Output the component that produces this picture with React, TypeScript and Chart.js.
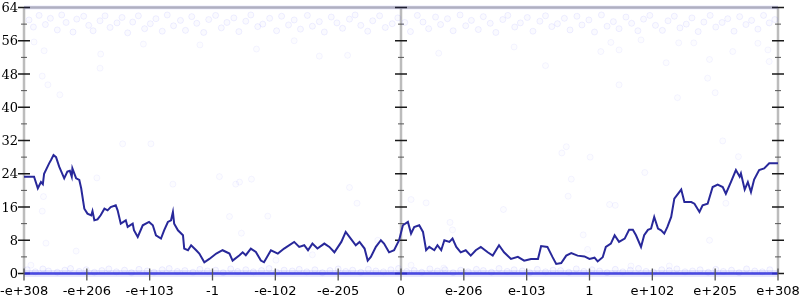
import React, { useEffect, useRef } from 'react';
import { Chart, registerables } from 'chart.js';
Chart.register(...registerables);

// x positions are category slots -6..6 (one per tick label)
const xTickLabels = ['-e+308', '-e+206', '-e+103', '-1', '-e-102', '-e-205', '0', 'e-206', 'e-103', '1', 'e+102', 'e+205', 'e+308'];
const xTickPos = [-6, -5, -4, -3, -2, -1, 0, 1, 2, 3, 4, 5, 6];
const yTicks = [0, 8, 16, 24, 32, 40, 48, 56, 64];
const yMinorTicks = [4, 12, 20, 28, 36, 44, 52, 60];

// main line (random-walk like trace)
const walkX = [-6, -5.84, -5.78, -5.73, -5.7, -5.68, -5.6, -5.57, -5.53, -5.49, -5.44, -5.36, -5.31, -5.27, -5.24, -5.23, -5.17, -5.12, -5.09, -5.04, -4.99, -4.93, -4.91, -4.88, -4.83, -4.78, -4.72, -4.67, -4.62, -4.54, -4.51, -4.46, -4.38, -4.35, -4.27, -4.25, -4.19, -4.11, -4.01, -3.95, -3.9, -3.82, -3.77, -3.71, -3.66, -3.63, -3.61, -3.55, -3.47, -3.45, -3.39, -3.34, -3.26, -3.21, -3.13, -3.05, -2.94, -2.84, -2.73, -2.68, -2.57, -2.52, -2.47, -2.39, -2.31, -2.23, -2.18, -2.1, -2.07, -1.96, -1.86, -1.7, -1.62, -1.54, -1.48, -1.41, -1.33, -1.22, -1.14, -1.06, -0.95, -0.88, -0.8, -0.72, -0.66, -0.58, -0.53, -0.48, -0.4, -0.32, -0.27, -0.19, -0.11, -0.03, 0.03, 0.11, 0.16, 0.21, 0.29, 0.35, 0.4, 0.45, 0.53, 0.58, 0.64, 0.69, 0.77, 0.82, 0.88, 0.95, 1.03, 1.11, 1.19, 1.27, 1.38, 1.46, 1.56, 1.64, 1.75, 1.86, 1.96, 2.07, 2.18, 2.23, 2.33, 2.41, 2.47, 2.55, 2.63, 2.71, 2.81, 2.92, 3.0, 3.08, 3.13, 3.21, 3.26, 3.34, 3.4, 3.47, 3.56, 3.63, 3.69, 3.74, 3.82, 3.87, 3.93, 3.98, 4.03, 4.09, 4.14, 4.19, 4.24, 4.3, 4.35, 4.46, 4.51, 4.62, 4.67, 4.75, 4.8, 4.88, 4.96, 5.04, 5.12, 5.17, 5.25, 5.33, 5.39, 5.41, 5.47, 5.52, 5.57, 5.62, 5.7, 5.78, 5.86, 5.94, 6];
const walkY = [23.3, 23.3, 20.5, 22, 21.5, 24, 26.5, 27.3, 28.5, 28, 25.7, 22.9, 24.5, 24.7, 23.3, 25.3, 22.9, 22.5, 20.5, 15.6, 14.4, 14, 15, 12.8, 13, 14, 15.6, 15.2, 16, 16.4, 15.2, 12, 12.8, 11.2, 12, 10.4, 8.8, 11.6, 12.4, 11.6, 9.2, 8.4, 10.4, 12.4, 12.8, 14.8, 12, 10.4, 9.2, 6, 5.6, 6.8, 5.6, 4.8, 2.7, 3.5, 4.8, 5.6, 4.8, 3.1, 4.4, 5.1, 4.4, 6, 5.2, 3.1, 2.7, 4.8, 5.6, 4.8, 6, 7.6, 6.4, 6.8, 5.6, 7.2, 6, 7.2, 6.4, 5.1, 7.6, 10, 8.4, 6.8, 7.6, 6, 3.1, 4, 6.4, 8, 7.2, 5.1, 5.6, 8, 11.6, 12.4, 9.6, 11.2, 11.6, 10, 5.6, 6.4, 5.6, 6.8, 5.6, 8, 7.6, 8.4, 6.4, 5.1, 5.6, 4.3, 5.6, 6.4, 5.1, 4.3, 6.8, 5.1, 3.5, 4, 3.1, 3.5, 3.5, 6.6, 6.4, 4, 2.3, 2.5, 4.3, 4.9, 4.3, 4.1, 3.5, 3.8, 2.9, 3.9, 6.4, 7.2, 9.2, 7.6, 8.4, 10.5, 10.5, 9.2, 6.4, 9.2, 10.5, 10.8, 13.6, 10.8, 10.4, 9.6, 11.2, 13.6, 18, 20.2, 17.2, 17.2, 16.8, 14.8, 16.4, 16.8, 20.8, 21.4, 20.8, 19.2, 22, 24.9, 23.3, 24.1, 20.2, 22, 19.6, 22.6, 24.9, 25.3, 26.5, 26.5, 26.5];

// faint sample points near the top
const topX = [-5.92, -5.85, -5.76, -5.66, -5.58, -5.47, -5.4, -5.33, -5.22, -5.16, -5.05, -4.97, -4.9, -4.79, -4.71, -4.63, -4.52, -4.44, -4.35, -4.27, -4.18, -4.08, -3.99, -3.9, -3.8, -3.72, -3.62, -3.51, -3.43, -3.33, -3.25, -3.14, -3.06, -2.95, -2.86, -2.77, -2.66, -2.58, -2.47, -2.39, -2.28, -2.2, -2.09, -1.98, -1.9, -1.79, -1.7, -1.6, -1.49, -1.41, -1.3, -1.22, -1.11, -1.02, -0.93, -0.82, -0.73, -0.64, -0.53, -0.45, -0.34, -0.25, -0.14, -0.05, 0.06, 0.15, 0.26, 0.35, 0.44, 0.55, 0.63, 0.74, 0.83, 0.94, 1.03, 1.12, 1.23, 1.31, 1.42, 1.51, 1.62, 1.7, 1.81, 1.9, 2.01, 2.1, 2.21, 2.3, 2.4, 2.49, 2.6, 2.69, 2.8, 2.88, 2.99, 3.08, 3.19, 3.28, 3.38, 3.47, 3.58, 3.67, 3.77, 3.86, 3.96, 4.05, 4.16, 4.25, 4.35, 4.44, 4.54, 4.63, 4.73, 4.82, 4.92, 5.01, 5.11, 5.2, 5.3, 5.39, 5.49, 5.58, 5.68, 5.77, 5.86, 5.95];
const topY = [61.0, 59.3, 62.1, 59.9, 61.4, 58.6, 62.2, 60.4, 58.1, 61.2, 61.9, 59.7, 58.4, 60.8, 62.0, 59.2, 60.3, 61.6, 57.9, 60.5, 62.0, 58.9, 60.1, 61.3, 58.3, 62.2, 59.6, 60.9, 58.5, 61.8, 60.2, 58.0, 61.1, 62.1, 59.1, 60.4, 61.5, 58.2, 60.7, 62.2, 59.4, 60.0, 61.4, 58.4, 61.9, 59.8, 61.0, 58.8, 62.1, 59.5, 60.6, 58.1, 61.7, 60.3, 59.0, 61.2, 62.2, 59.7, 58.3, 60.8, 62.0, 59.2, 60.1, 61.5, 60.4, 58.2, 62.1, 60.5, 58.9, 61.7, 59.9, 61.3, 58.4, 62.2, 59.6, 60.9, 58.7, 61.8, 60.2, 58.0, 61.1, 62.1, 59.3, 60.3, 61.6, 58.3, 60.7, 62.0, 59.4, 60.1, 61.4, 58.6, 61.9, 59.8, 61.0, 58.1, 62.2, 59.5, 60.6, 58.9, 61.7, 60.2, 58.4, 61.2, 62.1, 59.7, 58.5, 60.8, 61.9, 59.1, 60.0, 61.5, 58.2, 60.5, 62.1, 59.3, 60.4, 61.3, 58.3, 61.8, 59.9, 60.9, 58.8, 62.1, 60.3, 61.1];

// scattered faint points in the body of the plot
const midX = [-5.84, -5.68, -4.78, -4.79, -5.71, -5.62, -5.43, -4.43, -3.98, -5.69, -5.71, -5.65, -5.17, -4.84, -3.63, -2.89, -2.63, -2.57, -2.38, -2.73, -2.54, -2.12, -5.89, -0.82, -0.7, 0.16, 0.4, 0.78, 0.82, 1.63, -0.37, -1.41, -1.99, 0.16, 0.68, 2.63, 2.56, 3.01, 2.71, 2.66, 3.32, 3.41, 3.88, 5.12, 5.37, 5.17, 4.91, 2.9, 2.97, 3.66, 4.27, 4.22, 4.91, 4.88, 5.0, 4.4, 3.47, 3.47, 3.18, 5.84, 5.86, 5.28, 4.42, 4.66, 5.68, 3.34, 3.82, -1.3, -0.85, 0.6, -2.3, -3.2, 1.8, 2.3, -4.1, -1.7];
const midY = [55.7, 53.6, 52.8, 49.4, 47.5, 45.4, 43, 31.2, 31.2, 18.5, 15, 7.3, 5.4, 23, 21.5, 23.3, 21.5, 22, 22.7, 13.7, 9.7, 13.8, 2, 20.7, 16.9, 17.8, 17, 12.3, 10.5, 15.4, 8, 4.5, 3.2, 2, 1.3, 30.5, 29, 28, 22.7, 18.6, 16.6, 16.4, 24.3, 31.9, 28.1, 16.9, 8, 9.3, 5.8, 1.8, 1.8, 50.7, 51.5, 47, 43.5, 42.3, 45.4, 53.8, 53.4, 53.8, 51, 53.4, 55.5, 55.5, 55.4, 55.6, 56.2, 52.3, 52.5, 53, 54, 55, 54.5, 50, 55.2, 56];

// faint sample points hugging the floor
const lowX = [-5.95, -5.82, -5.7, -5.61, -5.47, -5.35, -5.26, -5.12, -5.01, -4.88, -4.76, -4.65, -4.53, -4.4, -4.29, -4.17, -4.04, -3.93, -3.8, -3.69, -3.56, -3.44, -3.31, -3.2, -3.08, -2.95, -2.83, -2.71, -2.6, -2.47, -2.35, -2.22, -2.1, -1.98, -1.86, -1.73, -1.62, -1.5, -1.37, -1.25, -1.13, -1.0, -0.88, -0.77, -0.64, -0.52, -0.4, -0.28, -0.16, -0.04, 0.09, 0.21, 0.33, 0.46, 0.58, 0.7, 0.83, 0.95, 1.07, 1.2, 1.31, 1.44, 1.56, 1.69, 1.8, 1.93, 2.05, 2.17, 2.3, 2.42, 2.54, 2.67, 2.79, 2.91, 3.04, 3.16, 3.28, 3.41, 3.53, 3.65, 3.78, 3.9, 4.02, 4.15, 4.27, 4.39, 4.52, 4.64, 4.76, 4.89, 5.01, 5.13, 5.26, 5.38, 5.5, 5.63, 5.75, 5.87];
const lowY = [0.9, 0.4, 1.1, 0.6, 0.3, 0.8, 1.2, 0.5, 0.9, 0.3, 0.7, 1.1, 0.4, 0.8, 0.2, 1.0, 0.6, 0.3, 0.9, 1.2, 0.5, 0.7, 0.3, 1.0, 0.6, 0.8, 0.2, 1.1, 0.5, 0.9, 0.4, 0.7, 1.2, 0.3, 0.8, 0.6, 1.0, 0.4, 0.9, 0.2, 0.7, 1.1, 0.5, 0.8, 0.3, 1.0, 0.6, 0.4, 0.9, 1.2, 0.5, 0.7, 0.3, 1.1, 0.6, 0.9, 0.2, 0.8, 0.4, 1.0, 0.7, 0.3, 1.2, 0.5, 0.9, 0.6, 0.2, 1.0, 0.4, 0.8, 0.7, 0.3, 1.1, 0.5, 0.9, 0.6, 0.2, 1.0, 0.4, 0.8, 1.2, 0.5, 0.3, 0.9, 0.7, 1.1, 0.4, 0.6, 0.9, 0.3, 1.0, 0.5, 0.8, 0.2, 1.1, 0.6, 0.4, 0.9];

const bandX = [-6, 6];
const floorY = [0, 0];
const ceilY = [64, 64];

const zip = (xs: number[], ys: number[]) => xs.map((x, i) => ({ x, y: ys[i] }));

const axesPlugin = {
  id: 'customAxes',
  beforeDatasetsDraw(chart: any) {
    const { ctx } = chart;
    const sx = chart.scales.x;
    const sy = chart.scales.y;
    const xl = sx.getPixelForValue(-6);
    const xc = sx.getPixelForValue(0);
    const xr = sx.getPixelForValue(6);
    const yt = sy.getPixelForValue(64);
    const yb = sy.getPixelForValue(0);
    ctx.save();
    ctx.strokeStyle = '#bcbcbc';
    ctx.lineWidth = 2.5;
    ctx.beginPath();
    for (const ax of [xl, xc, xr]) {
      ctx.moveTo(ax, yt);
      ctx.lineTo(ax, yb);
    }
    ctx.moveTo(xl, yt);
    ctx.lineTo(xr, yt);
    ctx.moveTo(xl, yb);
    ctx.lineTo(xr, yb);
    ctx.stroke();

    ctx.strokeStyle = '#1a1a1a';
    ctx.lineWidth = 1.3;
    ctx.beginPath();
    for (const v of yTicks) {
      const py = sy.getPixelForValue(v);
      for (const ax of [xl, xc, xr]) {
        ctx.moveTo(ax - 6, py);
        ctx.lineTo(ax + 6, py);
      }
    }
    ctx.stroke();

    ctx.strokeStyle = '#555';
    ctx.lineWidth = 1;
    ctx.beginPath();
    for (const v of yMinorTicks) {
      const py = sy.getPixelForValue(v);
      for (const ax of [xl, xc, xr]) {
        ctx.moveTo(ax - 3, py);
        ctx.lineTo(ax + 3, py);
      }
    }
    ctx.stroke();
    ctx.restore();
  },
  afterDraw(chart: any) {
    const { ctx } = chart;
    const sx = chart.scales.x;
    const sy = chart.scales.y;
    const xl = sx.getPixelForValue(-6);
    const yb = sy.getPixelForValue(0);
    ctx.save();
    ctx.strokeStyle = '#555';
    ctx.lineWidth = 1.3;
    ctx.beginPath();
    for (const p of xTickPos) {
      const px = sx.getPixelForValue(p);
      ctx.moveTo(px, yb - 5);
      ctx.lineTo(px, yb + 7);
    }
    ctx.stroke();

    ctx.fillStyle = '#000';
    ctx.font = '13px "DejaVu Serif"';
    ctx.textAlign = 'right';
    ctx.textBaseline = 'alphabetic';
    for (const v of yTicks) {
      ctx.fillText(String(v), xl - 6, sy.getPixelForValue(v) + 4.7);
    }
    ctx.font = '13px "DejaVu Sans"';
    ctx.textAlign = 'left';
    const W = chart.width;
    xTickPos.forEach((p, i) => {
      const t = xTickLabels[i];
      const w = ctx.measureText(t).width;
      let left = sx.getPixelForValue(p) - w / 2;
      if (left < 0) left = 0;
      if (left + w > W) left = W - w;
      ctx.fillText(t, left, 294.5);
    });
    ctx.restore();
  },
};

export default function App() {
  const ref = useRef<HTMLCanvasElement | null>(null);
  useEffect(() => {
    if (!ref.current) return;
    const faint = (a: number, b: number) => ({
      pointRadius: 3,
      pointBackgroundColor: `rgba(90,90,255,${a})`,
      pointBorderColor: `rgba(90,90,255,${b})`,
      pointBorderWidth: 1,
      clip: false,
    });
    const chart = new Chart(ref.current, {
      type: 'scatter',
      data: {
        datasets: [
          {
            data: zip(walkX, walkY),
            showLine: true,
            borderColor: '#28289a',
            borderWidth: 2,
            pointRadius: 0,
            tension: 0,
          } as any,
          {
            data: zip(bandX, floorY),
            showLine: true,
            borderColor: 'rgba(50,50,235,0.8)',
            borderWidth: 2.5,
            pointRadius: 0,
            clip: false,
          } as any,
          {
            data: zip(bandX, floorY),
            showLine: true,
            borderColor: 'rgba(80,80,240,0.14)',
            borderWidth: 7,
            pointRadius: 0,
            clip: false,
          } as any,
          {
            data: zip(bandX, ceilY),
            showLine: true,
            borderColor: 'rgba(80,80,230,0.12)',
            borderWidth: 4,
            pointRadius: 0,
            clip: false,
          } as any,
          { data: zip(topX, topY), ...faint(0.03, 0.09) } as any,
          { data: zip(midX, midY), ...faint(0.02, 0.06) } as any,
          { data: zip(lowX, lowY), ...faint(0.04, 0.1) } as any,
        ],
      },
      options: {
        responsive: false,
        animation: false,
        events: [],
        layout: { padding: { left: 24, right: 22, top: 7.5, bottom: 26.5 } },
        plugins: { legend: { display: false }, tooltip: { enabled: false } },
        scales: {
          x: { type: 'linear', min: -6, max: 6, display: false },
          y: { type: 'linear', min: 0, max: 64, display: false },
        },
      },
      plugins: [axesPlugin],
    });
    return () => chart.destroy();
  }, []);
  return (
    <div style={{ position: 'absolute', left: 0, top: 0, width: 800, height: 300, background: '#fff' }}>
      <canvas ref={ref} width={800} height={300} style={{ width: 800, height: 300, display: 'block' }} />
    </div>
  );
}
